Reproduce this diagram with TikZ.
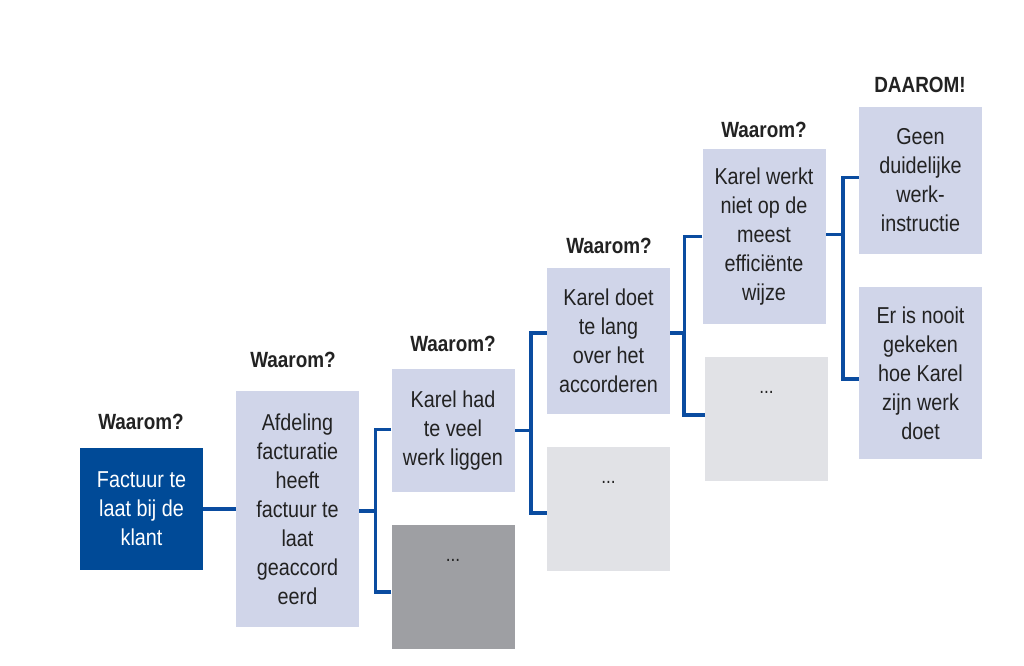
\documentclass[tikz,border=0pt]{standalone}
\usepackage{fontspec}
\setmainfont{Liberation Sans}[FakeStretch=0.86]
\begin{document}
\begin{tikzpicture}[x=1pt,y=-1pt,
  box/.style={rectangle, inner sep=0pt, minimum width=123pt, align=center,
    font=\fontsize{23}{29}\selectfont, text=txtc},
  lbox/.style={box, fill=lav},
  dbox/.style={box, fill=dblue, text=white},
  gbox/.style={box, minimum height=124pt},
  dots/.style={inner sep=0pt, font=\fontsize{20}{22}\selectfont, text=txtc},
  lab/.style={inner sep=0pt, font=\bfseries\fontsize{22}{24}\selectfont, text=txtc},
  conn/.style={draw=lblue, line width=3.5pt}
]
\definecolor{lav}{HTML}{D0D5E9}
\definecolor{dblue}{HTML}{004A97}
\definecolor{lblue}{HTML}{0A4CA0}
\definecolor{dgray}{HTML}{9E9FA3}
\definecolor{lgray}{HTML}{E1E2E6}
\definecolor{txtc}{HTML}{222222}
\useasboundingbox (0,0) rectangle (1024,665);

\node[dbox, minimum height=122pt] (b1) at (141.5,509) {Factuur te\\laat bij de\\klant};
\node[lbox, minimum height=236pt] (b2) at (297.5,509) {Afdeling\\facturatie\\heeft\\factuur te\\laat\\geaccord\\eerd};
\node[lbox, minimum height=123pt] (b3) at (453,430.5) {Karel had\\te veel\\werk liggen};
\node[gbox, fill=dgray] (b3b) at (453,587) {};
\node[lbox, minimum height=146pt] (b4) at (608.5,341) {Karel doet\\te lang\\over het\\accorderen};
\node[gbox, fill=lgray] (b4b) at (608.5,509) {};
\node[lbox, minimum height=175pt] (b5) at (764,236.5) {Karel werkt\\niet op de\\meest\\efficiënte\\wijze};
\node[gbox, fill=lgray] (b5b) at (766.5,419) {};
\node[lbox, minimum height=147pt] (b6) at (920.5,180.5) {Geen\\duidelijke\\werk-\\instructie};
\node[lbox, minimum height=172pt] (b6b) at (920.5,373) {Er is nooit\\gekeken\\hoe Karel\\zijn werk\\doet};

\node[dots, anchor=base] (d3) at ([yshift=-37pt]b3b.north) {...};
\node[dots, anchor=base] (d4) at ([yshift=-37pt]b4b.north) {...};
\node[dots, anchor=base] (d5) at ([yshift=-37pt]b5b.north) {...};

\node[lab] (l1) at (141,422) {Waarom?};
\node[lab] (l2) at (293,360) {Waarom?};
\node[lab] (l3) at (453,344) {Waarom?};
\node[lab] (l4) at (609,246) {Waarom?};
\node[lab] (l5) at (764,130) {Waarom?};
\node[lab] (l6) at (920,85) {DAAROM!};

\draw[conn] (b1.east) -- (b2.west);
\draw[conn] ([yshift=1pt]b3.west) -- ++(-16,0) |- ([yshift=-2pt]b2.east);
\draw[conn] ([yshift=-5pt]b3b.west) -- ++(-16,0) |- ([yshift=-2pt]b2.east);
\draw[conn] ([yshift=8pt]b4.west) -- ++(-16,0) |- (b3.east);
\draw[conn] ([yshift=-4pt]b4b.west) -- ++(-16,0) |- (b3.east);
\draw[conn] (b5.west) -- ++(-18,0) |- ([yshift=8pt]b4.east);
\draw[conn] ([yshift=4pt]b5b.west) -- ++(-21,0) |- ([yshift=8pt]b4.east);
\draw[conn] ([yshift=3pt]b6.west) -- ++(-16,0) |- ([yshift=2pt]b5.east);
\draw[conn] ([yshift=-6pt]b6b.west) -- ++(-16,0) |- ([yshift=2pt]b5.east);
\end{tikzpicture}
\end{document}
